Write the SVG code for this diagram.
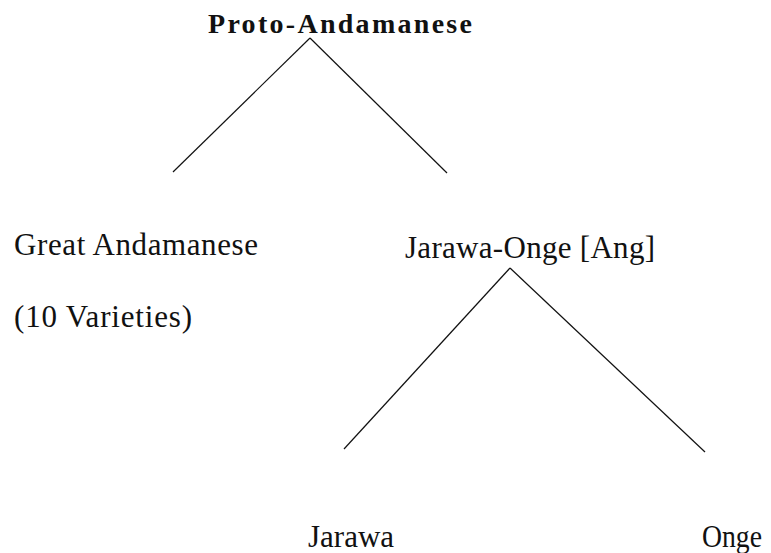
<svg xmlns="http://www.w3.org/2000/svg" width="771" height="553" viewBox="0 0 771 553">
<style>
text{font-family:"Liberation Serif","Times New Roman",serif;fill:#111}
.t{font-size:28px;font-weight:bold}
.n{font-size:31px}
line{stroke:#111;stroke-width:1.2;fill:none}
</style>
<rect width="771" height="553" fill="#fff"/>
<g id="proto-andamanese"><text class="t" x="208" y="33" textLength="264" lengthAdjust="spacing">Proto-Andamanese</text></g>
<g id="great-andamanese"><text class="n" x="14" y="255" textLength="244" lengthAdjust="spacing">Great Andamanese</text><text class="n" x="14" y="327" textLength="178" lengthAdjust="spacing">(10 Varieties)</text></g>
<g id="jarawa-onge"><text class="n" x="405" y="258" textLength="250" lengthAdjust="spacing">Jarawa-Onge [Ang]</text></g>
<g id="jarawa"><text class="n" x="308" y="547">Jarawa</text></g>
<g id="onge"><text class="n" x="702" y="547" textLength="60" lengthAdjust="spacingAndGlyphs">Onge</text></g>
<g id="connectors">
<line x1="310" y1="38" x2="173" y2="172"/>
<line x1="310" y1="38" x2="447" y2="173"/>
<line x1="510" y1="268" x2="344" y2="449"/>
<line x1="510" y1="268" x2="705" y2="452"/>
</g>
</svg>
